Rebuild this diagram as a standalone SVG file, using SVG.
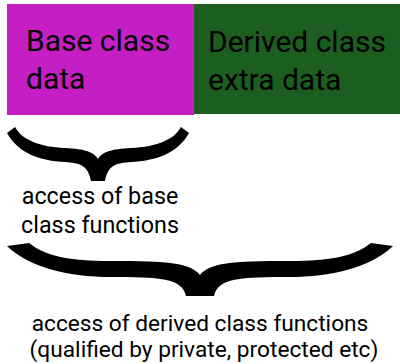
<svg xmlns="http://www.w3.org/2000/svg" width="400" height="364" viewBox="0 0 400 364">
<style>
text{font-family:Roboto,"Liberation Sans",sans-serif;fill:#000}
.big{font-size:30px}
.small{font-size:23.3px;text-anchor:middle}
.bottom{font-size:22.7px}
.brace{fill:#000;stroke:none}
</style>
<rect width="400" height="364" fill="#fff"/>
<g id="base">
<rect x="7" y="4" width="187" height="111" fill="#c41ec4"/>
<text class="big" x="26" y="51">Base class</text>
<text class="big" x="26" y="89">data</text>
</g>
<g id="derived">
<rect x="194" y="4" width="206" height="110" fill="#1b5e20"/>
<text class="big" x="208" y="52">Derived class</text>
<text class="big" x="208" y="90">extra data</text>
</g>
<g id="connectors">
<path id="brace-base" class="brace" d="M15,127 C22,140 40,147 65,148 C85,149 94,152 98,159 C102,152 111,149 131,148 C156,147 174,140 181,127 L189,133 C178,153 156,161 131,162 C116,163 108,165 105,181 L91,181 C88,165 80,163 65,162 C40,161 18,153 7,133 Z"/>
<path id="brace-derived" class="brace" d="M29,243 C45,256 70,261 110,261 C170,261 190,263 200,275 C210,263 230,261 290,261 C330,261 355,256 371,243 L393,246 C370,268 330,277 290,277 C240,277 218,278 214,296 L186,296 C182,278 160,277 110,277 C70,277 30,268 7,246 Z"/>
</g>
<g id="label-base">
<text class="small" x="100" y="204">access of base</text>
<text class="small" x="100" y="233">class functions</text>
</g>
<g id="label-derived">
<text class="small bottom" x="200" y="331">access of derived class functions</text>
<text class="small bottom" x="204" y="357">(qualified by private, protected etc)</text>
</g>
</svg>
